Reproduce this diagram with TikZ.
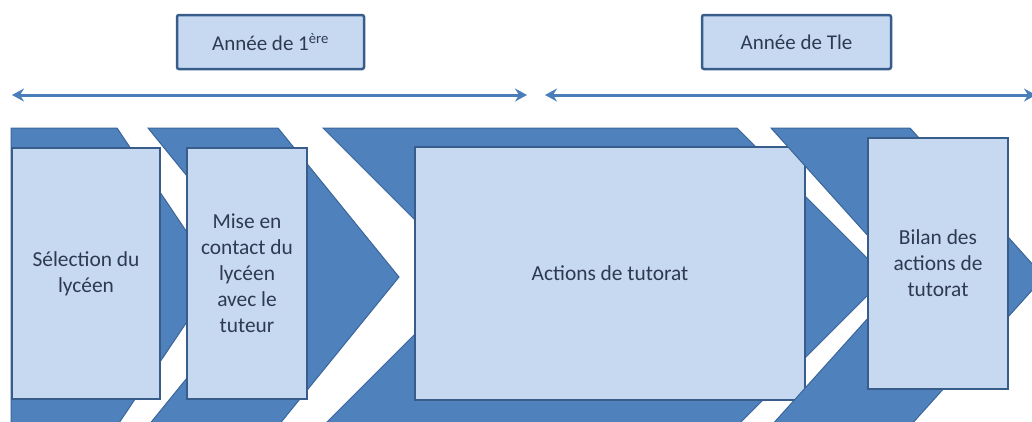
\documentclass[tikz,border=0pt]{standalone}
\usepackage{fontspec}
\setmainfont{Carlito}
\usetikzlibrary{arrows.meta}
\definecolor{chevfill}{HTML}{4F81BD}
\definecolor{chevline}{HTML}{3A669A}
\definecolor{boxfill}{HTML}{C6D9F1}
\definecolor{boxline}{HTML}{385D8A}
\definecolor{txt}{HTML}{2E3A50}
\definecolor{arrowcol}{HTML}{4A7EBB}
\tikzset{
  chev/.style={fill=chevfill, draw=chevline, line width=1pt, line join=miter},
  stagebox/.style={fill=boxfill, draw=boxline, line width=2pt, align=center, text=txt,
    font=\fontsize{21.4}{26}\selectfont, inner sep=2pt},
  yearbox/.style={fill=boxfill, draw=boxline, line width=2.5pt, rounded corners=2pt,
    align=center, text=txt, font=\fontsize{21}{25}\selectfont,
    minimum height=54pt},
  period/.style={draw=arrowcol, line width=3pt,
    {Stealth[length=12pt,width=13pt,inset=4pt]}-{Stealth[length=12pt,width=13pt,inset=4pt]}}
}
\begin{document}
\begin{tikzpicture}[x=1pt,y=-1pt]
\useasboundingbox (0,0) rectangle (1032,421);
% top labels and period arrows
\node[yearbox, minimum width=187pt] (y1) at (270.5,42) {Année de 1\textsuperscript{ère}};
\node[yearbox, minimum width=189pt] (y2) at (796.5,42) {Année de Tle};
\coordinate (a1l) at (12,95);
\coordinate (a1r) at (527,95);
\coordinate (a2l) at (545,95);
\coordinate (a2r) at (1036,95);
\draw[period] (a1l) -- (a1r);
\draw[period] (a2l) -- (a2r);
% stage 1
\path[chev] (11,128) -- (117,128) -- (217,277) -- (117,426) -- (11,426) -- cycle;
\node[stagebox, minimum width=148pt, minimum height=251pt] (b1) at (86,273.5) {Sélection du\\lycéen};
% stage 2
\path[chev] (148,128) -- (278,128) -- (399,277) -- (278,426) -- (148,426) -- (269,277) -- cycle;
\node[stagebox, minimum width=120pt, minimum height=251pt] (b2) at (247,273.5) {Mise en\\contact du\\lycéen\\avec le\\tuteur};
% stage 3
\path[chev] (323,128) -- (737,128) -- (886,277) -- (737,426) -- (323,426) -- (472,277) -- cycle;
\node[stagebox, minimum width=390pt, minimum height=253pt] (b3) at (610,273.5) {Actions de tutorat};
% stage 4
\path[chev] (771,128) -- (910,128) -- (1044,277) -- (910,426) -- (771,426) -- (905,277) -- cycle;
\node[stagebox, minimum width=140pt, minimum height=251pt] (b4) at (938,263.5) {Bilan des\\actions de\\tutorat};
\end{tikzpicture}
\end{document}
